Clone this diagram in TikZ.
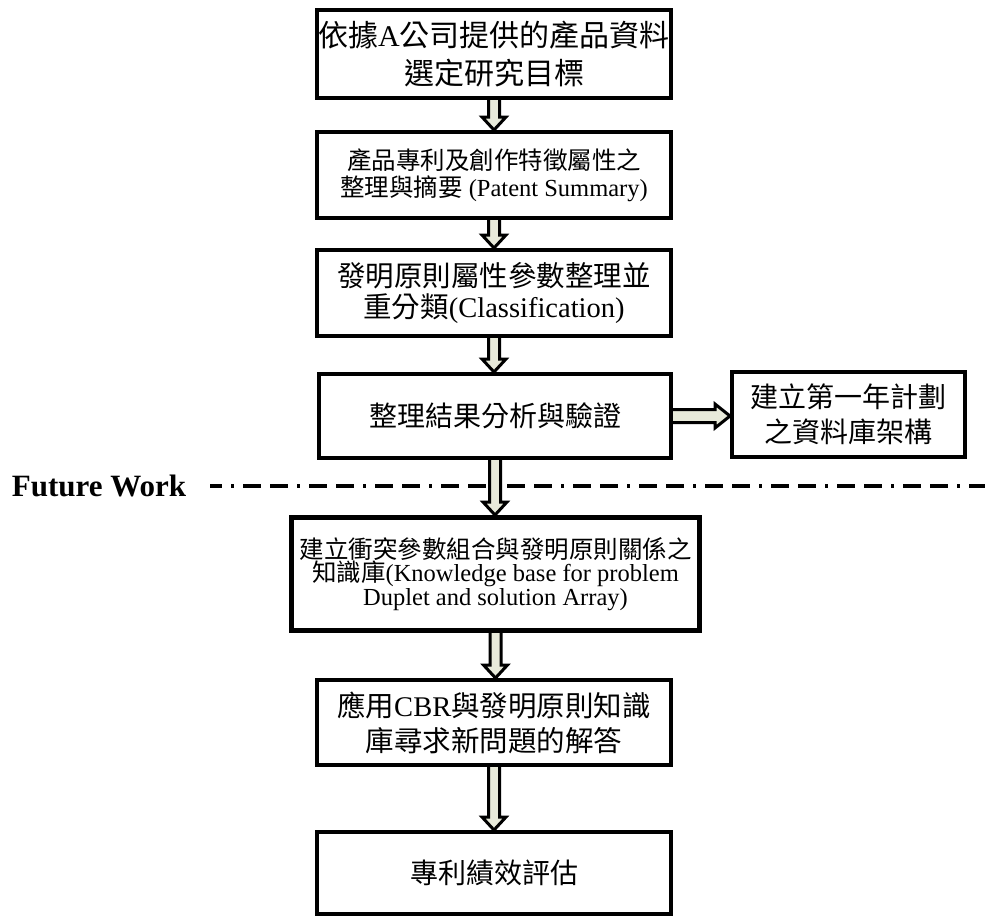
\documentclass[tikz,border=0pt]{standalone}
\usepackage{fontspec}
\setmainfont{Noto Sans CJK TC}
\newfontfamily\tmsfont{Liberation Serif}
\newcommand\tm[1]{{\tmsfont #1}}
\usetikzlibrary{calc}
\definecolor{arrowfill}{RGB}{232,234,218}
\tikzset{
  box/.style={draw=black, line width=4pt, fill=white, rectangle, align=center, inner sep=0pt},
  blockarrow/.style={draw=black, line width=3pt, fill=arrowfill, line join=miter},
  fwlabel/.style={font={\tmsfont\bfseries\fontsize{31}{36}\selectfont}, inner sep=0pt},
  sepline/.style={line width=4pt, dash pattern=on 18pt off 9pt on 18pt off 9pt on 3pt off 9pt, dash phase=33pt}
}
\newcommand\downblock[2]{%
  \filldraw[blockarrow] let \p1=(#1.south), \p2=(#2.north) in
    (\x1-5.5pt,\y1) -- (\x1-5.5pt,\y2+13pt) -- (\x1-12pt,\y2+13pt) -- (\x1,\y2)
    -- (\x1+12pt,\y2+13pt) -- (\x1+5.5pt,\y2+13pt) -- (\x1+5.5pt,\y1);}
\newcommand\rightblock[2]{%
  \filldraw[blockarrow] let \p1=(#1.east), \p2=(#2.west) in
    (\x1,\y1+6.5pt) -- (\x2-15pt,\y1+6.5pt) -- (\x2-15pt,\y1+12pt) -- (\x2,\y1)
    -- (\x2-15pt,\y1-12pt) -- (\x2-15pt,\y1-6.5pt) -- (\x1,\y1-6.5pt);}
\begin{document}
\begin{tikzpicture}[x=1pt,y=-1pt]
\useasboundingbox[fill=white] (0,0) rectangle (985,918);

\node[box, minimum width=354pt, minimum height=88pt, font=\fontsize{30}{38}\selectfont] (b1) at (494,54)
  {依據\tm{A}公司提供的產品資料\\選定研究目標};
\node[box, minimum width=354pt, minimum height=86pt, font=\fontsize{24.5}{27}\selectfont] (b2) at (494,175)
  {產品專利及創作特徵屬性之\\整理與摘要\tm{ (Patent Summary)}};
\node[box, minimum width=354pt, minimum height=86pt, font=\fontsize{28.5}{31}\selectfont] (b3) at (494,293)
  {發明原則屬性參數整理並\\重分類\tm{(Classification)}};
\node[box, minimum width=352pt, minimum height=84pt, font=\fontsize{28}{34}\selectfont] (b4) at (495,416)
  {整理結果分析與驗證};
\node[box, minimum width=233pt, minimum height=85pt, font=\fontsize{28}{35}\selectfont] (side) at (848.5,414.5)
  {建立第一年計劃\\之資料庫架構};
\node[box, line width=5pt, minimum width=408pt, minimum height=113pt, font=\fontsize{24.5}{23.5}\selectfont] (b5) at (495.5,574)
  {建立衝突參數組合與發明原則關係之\\知識庫\tm{(Knowledge base for problem}\\\tm{Duplet and solution Array)}};
\node[box, minimum width=354pt, minimum height=85pt, font=\fontsize{28.5}{35}\selectfont] (b6) at (494,722.5)
  {應用\tm{CBR}與發明原則知識\\庫尋求新問題的解答};
\node[box, minimum width=354pt, minimum height=82pt, font=\fontsize{28}{34}\selectfont] (b7) at (494,873)
  {專利績效評估};

\node[fwlabel] (fw) at (99,486) {Future Work};
\coordinate (dashstart) at (210,486);
\coordinate (dashend) at (985,486);
\draw[sepline] (dashstart) -- (dashend);

\downblock{b1}{b2}
\downblock{b2}{b3}
\downblock{b3}{b4}
\downblock{b4}{b5}
\downblock{b5}{b6}
\downblock{b6}{b7}
\rightblock{b4}{side}
\end{tikzpicture}
\end{document}
